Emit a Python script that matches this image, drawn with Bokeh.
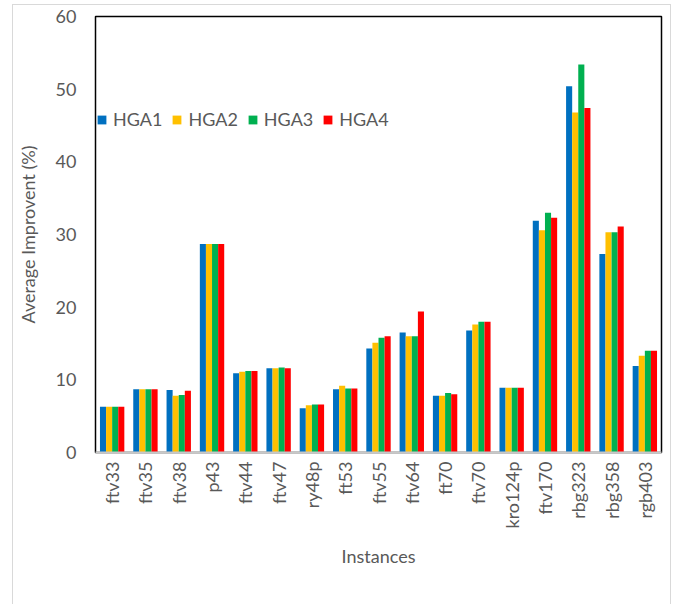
import math
from bokeh.plotting import figure
from bokeh.models import ColumnDataSource, FactorRange, Range1d, Legend, LegendItem, FixedTicker
from bokeh.transform import dodge
from bokeh.embed import file_html
from bokeh.resources import INLINE

instances = ["ftv33", "ftv35", "ftv38", "p43", "ftv44", "ftv47", "ry48p", "ft53", "ftv55",
             "ftv64", "ft70", "ftv70", "kro124p", "ftv170", "rbg323", "rbg358", "rgb403"]
hga1 = [6.3, 8.7, 8.6, 28.7, 10.9, 11.6, 6.1, 8.7, 14.3, 16.5, 7.8, 16.8, 8.9, 31.9, 50.4, 27.3, 11.9]
hga2 = [6.3, 8.7, 7.8, 28.7, 11.1, 11.6, 6.5, 9.2, 15.1, 16.0, 7.8, 17.6, 8.9, 30.6, 46.8, 30.3, 13.3]
hga3 = [6.3, 8.7, 7.9, 28.7, 11.2, 11.7, 6.6, 8.8, 15.8, 16.0, 8.2, 18.0, 8.9, 33.0, 53.4, 30.3, 14.0]
hga4 = [6.3, 8.7, 8.5, 28.7, 11.2, 11.6, 6.6, 8.8, 16.0, 19.4, 8.0, 18.0, 8.9, 32.3, 47.4, 31.1, 14.0]
series = ["HGA1", "HGA2", "HGA3", "HGA4"]
colors = ["#0070C0", "#FFC000", "#00B050", "#FF0000"]
y_ticks = [0, 10, 20, 30, 40, 50, 60]

src = ColumnDataSource(dict(x=instances, HGA1=hga1, HGA2=hga2, HGA3=hga3, HGA4=hga4))

FONT = "Lato"
GRAY = "#595959"

p = figure(width=659, height=602, x_range=FactorRange(*instances, range_padding=0),
           y_range=Range1d(0, 60), output_backend="svg", toolbar_location=None,
           min_border_left=82, min_border_right=11, min_border_top=11, min_border_bottom=155,
           margin=(4, 0, 0, 12))
p.styles = {"border": "1px solid #d9d9d9"}

offsets = [-0.2745, -0.0915, 0.0915, 0.2745]
renderers = []
for s, c, off in zip(series, colors, offsets):
    r = p.vbar(x=dodge("x", off, range=p.x_range), top=s, width=0.183, source=src,
               fill_color=c, line_color=None)
    renderers.append(r)

p.xgrid.visible = False
p.ygrid.visible = False
p.outline_line_color = "black"
p.outline_line_width = 1.5

p.yaxis.ticker = FixedTicker(ticks=y_ticks)
p.yaxis.axis_line_color = None
p.yaxis.major_tick_line_color = None
p.yaxis.minor_tick_line_color = None
p.yaxis.major_tick_out = 0
p.yaxis.major_label_standoff = 19
p.yaxis.major_label_text_font = FONT
p.yaxis.major_label_text_font_size = "18px"
p.yaxis.major_label_text_color = GRAY
p.yaxis.axis_label = "Average Improvent (%)"
p.yaxis.axis_label_text_font = FONT
p.yaxis.axis_label_text_font_size = "18px"
p.yaxis.axis_label_text_font_style = "normal"
p.yaxis.axis_label_text_color = GRAY
p.yaxis.axis_label_standoff = 14

p.xaxis.axis_line_color = "#c8c8c8"
p.xaxis.axis_line_width = 2
p.xaxis.major_tick_line_color = None
p.xaxis.minor_tick_line_color = None
p.xaxis.major_tick_out = 0
p.xaxis.major_label_standoff = 9
p.xaxis.major_label_orientation = math.pi / 2
p.xaxis.major_label_text_font = FONT
p.xaxis.major_label_text_font_size = "18px"
p.xaxis.major_label_text_color = GRAY
p.xaxis.axis_label = "Instances"
p.xaxis.axis_label_text_font = FONT
p.xaxis.axis_label_text_font_size = "18px"
p.xaxis.axis_label_text_font_style = "normal"
p.xaxis.axis_label_text_color = GRAY
p.xaxis.axis_label_standoff = 14

legend = Legend(items=[LegendItem(label=s, renderers=[r]) for s, r in zip(series, renderers)],
                orientation="horizontal", location=(1, 322),
                glyph_width=11, glyph_height=11, label_standoff=6, spacing=9,
                padding=0, margin=0, border_line_color=None, background_fill_alpha=0,
                label_text_font=FONT, label_text_font_size="18px", label_text_color=GRAY,
                label_height=20)
p.add_layout(legend, "center")

open("out.html", "w").write(file_html(p, INLINE))
